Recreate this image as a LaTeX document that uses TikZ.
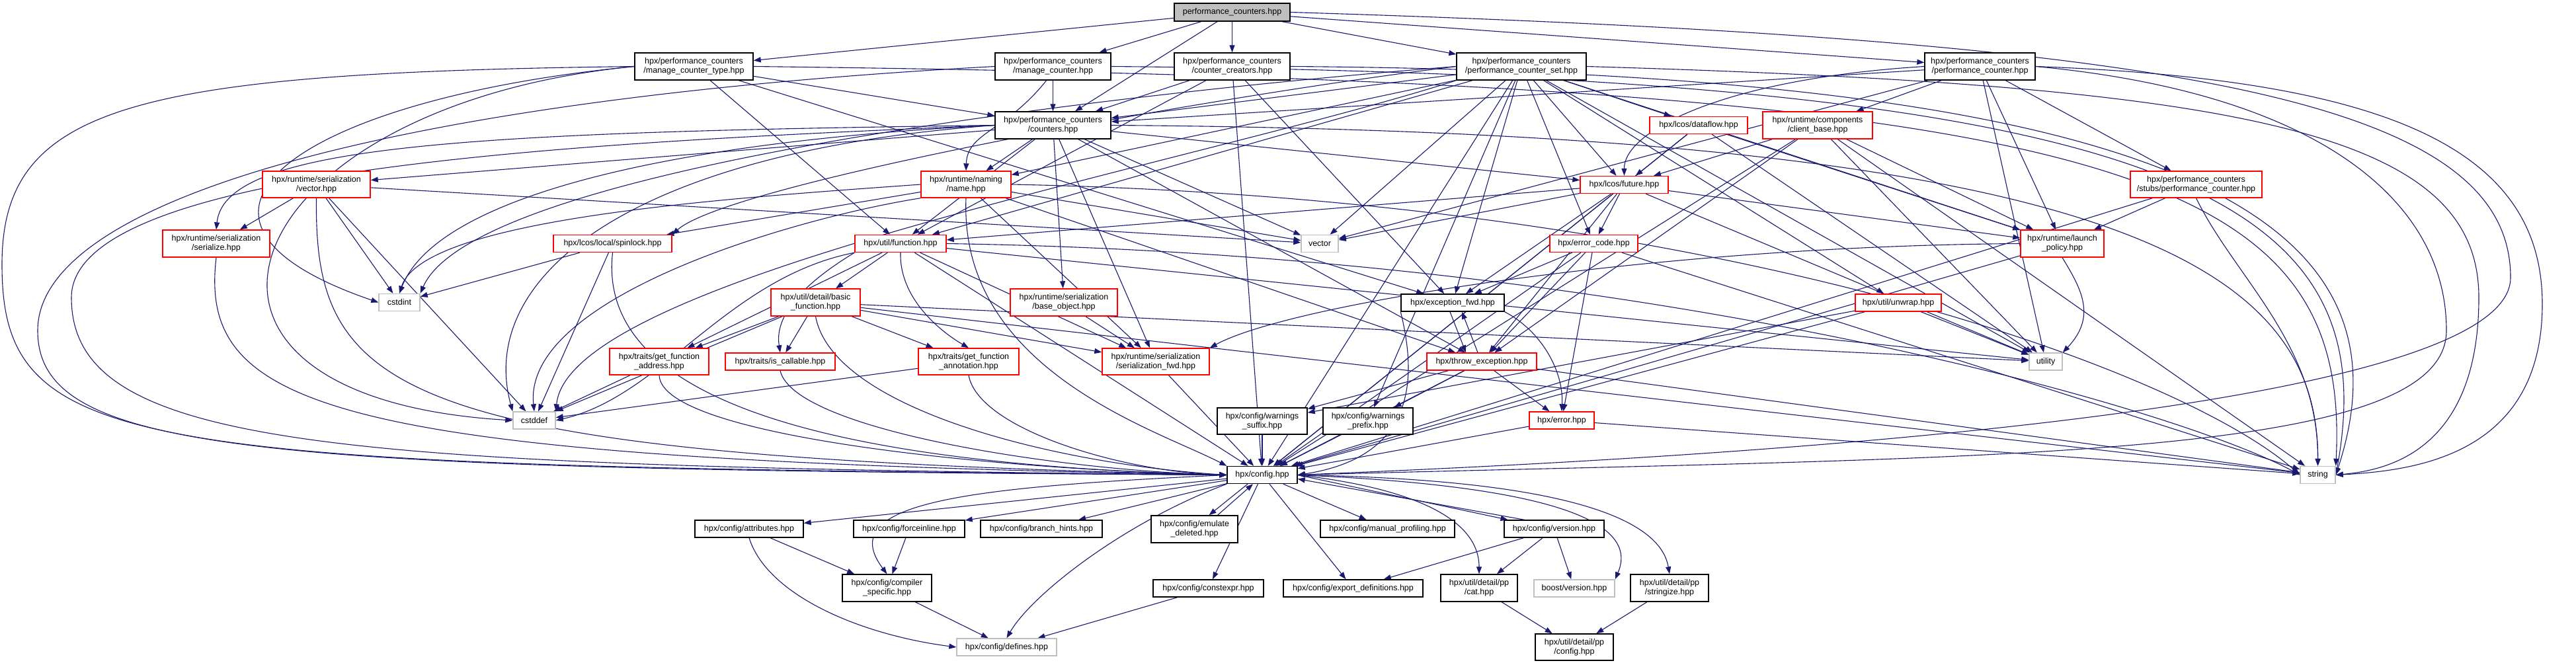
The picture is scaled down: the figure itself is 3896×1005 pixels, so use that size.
\documentclass[tikz,border=0pt]{standalone}
\usepackage{fontspec}
\setmainfont{Liberation Sans}
\usetikzlibrary{arrows.meta,backgrounds}
\definecolor{edgec}{RGB}{25,25,112}
\definecolor{greyb}{RGB}{191,191,191}
\tikzset{
 box/.style={draw=black, line width=1.4pt, fill=white, inner sep=0pt, align=center, font=\fontsize{12.5}{14}\selectfont},
 bk/.style={box},
 rd/.style={box, draw=red},
 gr/.style={box, draw=greyb},
 tp/.style={box, fill=greyb},
 ed/.style={draw=edgec, line width=1.1pt, -{Triangle[length=11pt,width=8pt]}},
}
\begin{document}
\begin{tikzpicture}[x=1pt,y=-1pt]
\useasboundingbox (0,0) rectangle (3896,1005);
% ---------- nodes ----------
\node[tp, minimum width=175pt, minimum height=27pt] (T) at (1863.5,18.5) {performance\_counters.hpp};
\node[bk, minimum width=179pt, minimum height=41pt] (mct) at (1049.5,100.5) {hpx/performance\_counters\\/manage\_counter\_type.hpp};
\node[bk, minimum width=175pt, minimum height=41pt] (mc) at (1592.5,100.5) {hpx/performance\_counters\\/manage\_counter.hpp};
\node[bk, minimum width=175pt, minimum height=41pt] (cc) at (1863.5,100.5) {hpx/performance\_counters\\/counter\_creators.hpp};
\node[bk, minimum width=196pt, minimum height=41pt] (pcs) at (2301,100.5) {hpx/performance\_counters\\/performance\_counter\_set.hpp};
\node[bk, minimum width=167pt, minimum height=41pt] (pc) at (2994.5,100.5) {hpx/performance\_counters\\/performance\_counter.hpp};
\node[bk, minimum width=175pt, minimum height=41pt] (cnt) at (1592.5,189.5) {hpx/performance\_counters\\/counters.hpp};
\node[rd, minimum width=163pt, minimum height=40pt] (svec) at (478.5,279) {hpx/runtime/serialization\\/vector.hpp};
\node[rd, minimum width=136pt, minimum height=40pt] (name) at (1461,279) {hpx/runtime/naming\\/name.hpp};
\node[rd, minimum width=148pt, minimum height=26pt] (dataflow) at (2569,189.5) {hpx/lcos/dataflow.hpp};
\node[rd, minimum width=166pt, minimum height=41pt] (client) at (2749,189.5) {hpx/runtime/components\\/client\_base.hpp};
\node[rd, minimum width=133pt, minimum height=26pt] (future) at (2456.5,279.5) {hpx/lcos/future.hpp};
\node[rd, minimum width=199pt, minimum height=40pt] (stubs) at (3321.5,279) {hpx/performance\_counters\\/stubs/performance\_counter.hpp};
\node[rd, minimum width=162pt, minimum height=41pt] (serialize) at (327,368.5) {hpx/runtime/serialization\\/serialize.hpp};
\node[rd, minimum width=179pt, minimum height=26pt] (spinlock) at (926.5,368.5) {hpx/lcos/local/spinlock.hpp};
\node[rd, minimum width=138pt, minimum height=26pt] (func) at (1362,368.5) {hpx/util/function.hpp};
\node[gr, minimum width=56pt, minimum height=26pt] (vector) at (1996,368.5) {vector};
\node[rd, minimum width=133pt, minimum height=26pt] (errcode) at (2410.5,368.5) {hpx/error\_code.hpp};
\node[rd, minimum width=126pt, minimum height=41pt] (launch) at (3119,368.5) {hpx/runtime/launch\\\_policy.hpp};
\node[gr, minimum width=62pt, minimum height=26pt] (cstdint) at (604,457.5) {cstdint};
\node[rd, minimum width=135pt, minimum height=41pt] (basic) at (1233.5,457.5) {hpx/util/detail/basic\\\_function.hpp};
\node[rd, minimum width=162pt, minimum height=41pt] (baseobj) at (1609,457.5) {hpx/runtime/serialization\\/base\_object.hpp};
\node[bk, minimum width=156pt, minimum height=26pt] (excfwd) at (2197,458) {hpx/exception\_fwd.hpp};
\node[rd, minimum width=130pt, minimum height=26pt] (unwrap) at (2871,458) {hpx/util/unwrap.hpp};
\node[rd, minimum width=150pt, minimum height=40pt] (gfa) at (997,547) {hpx/traits/get\_function\\\_address.hpp};
\node[rd, minimum width=166pt, minimum height=26pt] (iscall) at (1180,547) {hpx/traits/is\_callable.hpp};
\node[rd, minimum width=152pt, minimum height=40pt] (gfann) at (1465,547) {hpx/traits/get\_function\\\_annotation.hpp};
\node[rd, minimum width=162pt, minimum height=40pt] (serfwd) at (1748,547) {hpx/runtime/serialization\\/serialization\_fwd.hpp};
\node[rd, minimum width=166pt, minimum height=26pt] (throw) at (2241,547) {hpx/throw\_exception.hpp};
\node[gr, minimum width=50pt, minimum height=26pt] (utility) at (3094,547) {utility};
\node[bk, minimum width=136pt, minimum height=40pt] (wsuf) at (1909,637) {hpx/config/warnings\\\_suffix.hpp};
\node[bk, minimum width=136pt, minimum height=40pt] (wpre) at (2069,637) {hpx/config/warnings\\\_prefix.hpp};
\node[gr, minimum width=64pt, minimum height=26pt] (cstddef) at (808,636) {cstddef};
\node[rd, minimum width=98pt, minimum height=26pt] (error) at (2362,636) {hpx/error.hpp};
\node[bk, minimum width=106pt, minimum height=26pt] (config) at (1909,718.5) {hpx/config.hpp};
\node[gr, minimum width=53pt, minimum height=26pt] (string) at (3505.5,718.5) {string};
\node[bk, minimum width=164pt, minimum height=26pt] (attr) at (1133,800) {hpx/config/attributes.hpp};
\node[bk, minimum width=168pt, minimum height=26pt] (force) at (1375,800) {hpx/config/forceinline.hpp};
\node[bk, minimum width=184pt, minimum height=26pt] (branch) at (1575,800) {hpx/config/branch\_hints.hpp};
\node[bk, minimum width=131pt, minimum height=41pt] (emul) at (1806.5,800.5) {hpx/config/emulate\\\_deleted.hpp};
\node[bk, minimum width=203pt, minimum height=26pt] (manprof) at (2098.5,800) {hpx/config/manual\_profiling.hpp};
\node[bk, minimum width=151pt, minimum height=26pt] (version) at (2350.5,800) {hpx/config/version.hpp};
\node[bk, minimum width=135pt, minimum height=41pt] (compspec) at (1341.5,889.5) {hpx/config/compiler\\\_specific.hpp};
\node[bk, minimum width=167pt, minimum height=26pt] (constexpr) at (1827.5,890) {hpx/config/constexpr.hpp};
\node[bk, minimum width=211pt, minimum height=26pt] (export) at (2046.5,890) {hpx/config/export\_definitions.hpp};
\node[bk, minimum width=116pt, minimum height=41pt] (cat) at (2237,889.5) {hpx/util/detail/pp\\/cat.hpp};
\node[gr, minimum width=122pt, minimum height=26pt] (boostver) at (2381,890) {boost/version.hpp};
\node[bk, minimum width=118pt, minimum height=41pt] (stringize) at (2525,889.5) {hpx/util/detail/pp\\/stringize.hpp};
\node[gr, minimum width=151pt, minimum height=26pt] (defines) at (1522.5,979) {hpx/config/defines.hpp};
\node[bk, minimum width=118pt, minimum height=40pt] (ppconfig) at (2381,979) {hpx/util/detail/pp\\/config.hpp};
% ---------- edges ----------
\begin{scope}[on background layer]
% top file
\draw[ed] (T) -- (mct);
\draw[ed] (T) -- (mc);
\draw[ed] (T) -- (cc);
\draw[ed] (T) -- (pcs);
\draw[ed] (T) -- (pc);
\draw[ed] (T) -- (cnt);
\draw[ed] (T.east) .. controls (3300,60) and (3797,150) .. (3797,420) .. controls (3797,640) and (2400,700) .. (config.east);
% manage_counter_type
\draw[ed] (mct) -- (cnt);
\draw[ed] (mct) -- (func);
\draw[ed] (mct) -- (excfwd);
\draw[ed] (mct.east) .. controls (3200,125) and (3555,250) .. (string.north east);
\draw[ed] (mct.west) .. controls (450,150) and (200,330) .. (cstdint.west);
\draw[ed] (mct.west) .. controls (350,160) and (180,600) .. (cstddef.west);
\draw[ed] (mct.west) .. controls (200,110) and (3,160) .. (3,400) .. controls (3,690) and (200,705) .. (config.west);
% manage_counter
\draw[ed] (mc) -- (cnt);
\draw[ed] (mc.245) .. controls (1520,200) and (1463,200) .. (name.north);
\draw[ed] (mc.east) .. controls (3300,115) and (3610,300) .. (string.east);
\draw[ed] (mc.west) .. controls (600,150) and (57,300) .. (57,500) .. controls (57,690) and (400,710) .. (config.west);
% counter_creators
\draw[ed] (cc) -- (cnt);
\draw[ed] (cc) -- (func);
\draw[ed] (cc) -- (config);
\draw[ed] (cc.east) .. controls (3300,110) and (3660,330) .. (string.east);
\draw[ed] (cc) -- (excfwd);
% performance_counter_set
\draw[ed] (pcs) -- (cnt);
\draw[ed] (pcs) -- (name);
\draw[ed] (pcs) -- (func);
\draw[ed] (pcs) -- (future);
\draw[ed] (pcs) -- (dataflow);
\draw[ed] (pcs) -- (errcode);
\draw[ed] (pcs.west) .. controls (1800,150) and (1100,280) .. (spinlock.north east);
\draw[ed] (pcs) -- (launch);
\draw[ed] (pcs) -- (unwrap);
\draw[ed] (pcs) -- (excfwd);
\draw[ed] (pcs) -- (vector);
\draw[ed] (pcs) -- (utility);
\draw[ed] (pcs.west) .. controls (1700,140) and (720,250) .. (cstdint.north east);
\draw[ed] (pcs.south west) .. controls (1800,250) and (860,420) .. (cstddef.north east);
\draw[ed] (pcs) -- (wpre);
\draw[ed] (pcs) -- (config);
\draw[ed] (pcs.east) .. controls (3400,130) and (3749,200) .. (3749,450) .. controls (3749,690) and (3600,712) .. (string.east);
% performance_counter
\draw[ed] (pc) -- (cnt);
\draw[ed] (pc.west) .. controls (2600,120) and (2456,200) .. (future.north);
\draw[ed] (pc) -- (stubs);
\draw[ed] (pc) -- (client);
\draw[ed] (pc) -- (launch);
\draw[ed] (pc) -- (utility);
\draw[ed] (pc) -- (vector);
\draw[ed] (pc.east) .. controls (3600,120) and (3845,220) .. (3845,460) .. controls (3845,690) and (3650,712) .. (string.east);
\draw[ed] (pc.east) .. controls (3500,140) and (3700,300) .. (3700,500) .. controls (3700,700) and (3000,690) .. (config.east);
% counters
\draw[ed] (cnt) -- (name);
\draw[ed] (cnt) -- (svec);
\draw[ed] (cnt.west) .. controls (700,200) and (340,220) .. (serialize.north);
\draw[ed] (cnt) -- (baseobj);
\draw[ed] (cnt) -- (serfwd);
\draw[ed] (cnt) -- (func);
\draw[ed] (cnt) -- (future);
\draw[ed] (cnt) -- (throw);
\draw[ed] (cnt.west) .. controls (1000,215) and (660,300) .. (cstdint.north);
\draw[ed] (cnt.west) .. controls (950,230) and (720,420) .. (cstddef.north west);
\draw[ed] (cnt.east) .. controls (3200,200) and (3506,400) .. (string.north);
\draw[ed] (cnt) -- (vector);
\draw[ed] (cnt.west) .. controls (900,215) and (108,250) .. (108,450) .. controls (108,680) and (500,705) .. (config.west);
% serialization/vector
\draw[ed] (svec) -- (serialize);
\draw[ed] (svec) -- (cstdint);
\draw[ed] (svec) -- (cstddef);
\draw[ed] (svec) -- (vector);
\draw[ed] (svec.south) .. controls (475,600) and (600,690) .. (config.west);
% serialize
\draw[ed] (serialize.south) .. controls (300,620) and (500,695) .. (config.west);
% name
\draw[ed] (name) -- (serfwd);
\draw[ed] (name) -- (throw);
\draw[ed] (name) -- (spinlock);
\draw[ed] (name.west) .. controls (1100,300) and (640,330) .. (cstdint.north);
\draw[ed] (name.south west) .. controls (1200,330) and (790,450) .. (cstddef.north);
\draw[ed] (name.east) .. controls (2600,300) and (3300,560) .. (string.west);
\draw[ed] (name) -- (vector);
\draw[ed] (name.south) .. controls (1450,560) and (1750,650) .. (config.north west);
% dataflow
\draw[ed] (dataflow) -- (future);
\draw[ed] (dataflow) -- (launch);
\draw[ed] (dataflow) -- (utility);
\draw[ed] (dataflow) -- (config);
% client_base
\draw[ed] (client) -- (future);
\draw[ed] (client) -- (launch);
\draw[ed] (client) -- (throw);
\draw[ed] (client) -- (utility);
\draw[ed] (client) -- (config);
\draw[ed] (client) -- (string);
% future
\draw[ed] (future) -- (errcode);
\draw[ed] (future) -- (throw);
\draw[ed] (future) -- (excfwd);
\draw[ed] (future) -- (launch);
\draw[ed] (future) -- (utility);
\draw[ed] (future) -- (config);
\draw[ed] (future) -- (vector);
\draw[ed] (future) -- (func);
% stubs
\draw[ed] (stubs) -- (launch);
\draw[ed] (stubs.south) .. controls (3380,420) and (3506,520) .. (string.north);
\draw[ed] (stubs) -- (config);
% error_code
\draw[ed] (errcode) -- (excfwd);
\draw[ed] (errcode) -- (throw);
\draw[ed] (errcode) -- (error);
\draw[ed] (errcode) -- (config);
\draw[ed] (errcode) -- (string);
% exception_fwd / throw_exception
\draw[ed] ([xshift=-4pt]excfwd.south) -- ([xshift=-24pt]throw.north);
\draw[ed] ([xshift=-6pt]throw.north) -- ([xshift=14pt]excfwd.south);
\draw[ed] (excfwd.south west) .. controls (2140,560) and (2150,690) .. (config.east);
\draw[ed] (excfwd.south east) .. controls (2330,500) and (2365,560) .. (error.north);
\draw[ed] (throw) -- (error);
\draw[ed] (throw) -- (wsuf);
\draw[ed] (throw) -- (wpre);
\draw[ed] (throw) -- (config);
\draw[ed] (throw) -- (string);
\draw[ed] (error) -- (config);
\draw[ed] (error) -- (string);
% unwrap
\draw[ed] (unwrap) -- (utility);
\draw[ed] (unwrap) -- (config);
\draw[ed] (unwrap) -- (wsuf);
% launch_policy
\draw[ed] (launch.south) .. controls (3150,440) and (3170,480) .. (utility.north east);
\draw[ed] (launch.west) .. controls (2500,372) and (1950,460) .. (serfwd.north east);
\draw[ed] (launch) -- (config);
% function
\draw[ed] (func) -- (basic);
\draw[ed] (func.south west) .. controls (1230,420) and (1170,470) .. (iscall.north);
\draw[ed] (func) -- (gfa);
\draw[ed] (func.south) .. controls (1360,450) and (1420,500) .. (gfann.north);
\draw[ed] (func) -- (serfwd);
\draw[ed] (func) -- (config);
\draw[ed] (func.south west) .. controls (1100,420) and (1000,600) .. (cstddef.east);
\draw[ed] (func) -- (utility);
\draw[ed] (func.east) .. controls (2500,385) and (3300,620) .. (string.west);
% basic_function
\draw[ed] (basic) -- (gfa);
\draw[ed] (basic) -- (iscall);
\draw[ed] (basic) -- (gfann);
\draw[ed] (basic) -- (serfwd);
\draw[ed] (basic) -- (cstddef);
\draw[ed] (basic.south) .. controls (1260,620) and (1600,702) .. (config.west);
\draw[ed] (basic) -- (utility);
\draw[ed] (basic) -- (string);
% traits etc.
\draw[ed] (gfa) -- (cstddef);
\draw[ed] (gfa.south) .. controls (1000,660) and (1500,710) .. (config.west);
\draw[ed] (iscall.south) .. controls (1200,650) and (1600,712) .. (config.west);
\draw[ed] (gfann) -- (cstddef);
\draw[ed] (gfann.south) .. controls (1480,650) and (1700,714) .. (config.west);
\draw[ed] (serfwd) -- (config);
\draw[ed] (baseobj) -- (serfwd);
\draw[ed] (wsuf) -- (config);
\draw[ed] (wpre) -- (config);
\draw[ed] (spinlock) -- (cstdint);
\draw[ed] (spinlock) -- (cstddef);
\draw[ed] (spinlock.south) .. controls (900,620) and (1300,704) .. (config.west);
% config
\draw[ed] (config) -- (attr);
\draw[ed] (config) -- (force);
\draw[ed] (config) -- (branch);
\draw[ed] ([xshift=-22pt]config.south) -- ([xshift=22pt]emul.north);
\draw[ed] ([xshift=35pt]emul.north) -- ([xshift=-14pt]config.south);
\draw[ed] (config.west) .. controls (1460,737) and (1260,760) .. (compspec.north);
\draw[ed] (config) -- (constexpr);
\draw[ed] (config.south west) .. controls (1700,790) and (1560,900) .. (defines.north);
\draw[ed] (config) -- (manprof);
\draw[ed] (config.east) -- ([xshift=-70pt]version.north);
\draw[ed] ([xshift=-45pt]version.north) -- ([yshift=-6pt]config.east);
\draw[ed] (config) -- (export);
\draw[ed] (config.east) .. controls (2150,740) and (2237,790) .. (cat.north);
\draw[ed] (config.east) .. controls (2350,735) and (2480,790) .. (boostver.north east);
\draw[ed] (config.east) .. controls (2350,725) and (2510,780) .. (stringize.north);
\draw[ed] (version) -- (export);
\draw[ed] (version) -- (cat);
\draw[ed] (version) -- (boostver);
\draw[ed] (attr) -- (compspec);
\draw[ed] (attr.south) .. controls (1160,900) and (1300,960) .. (defines.west);
\draw[ed] (force) -- (compspec);
\draw[ed] (compspec) -- (defines);
\draw[ed] (constexpr) -- (defines);
\draw[ed] (cat) -- (ppconfig);
\draw[ed] (stringize) -- (ppconfig);
\end{scope}
\end{tikzpicture}
\end{document}
